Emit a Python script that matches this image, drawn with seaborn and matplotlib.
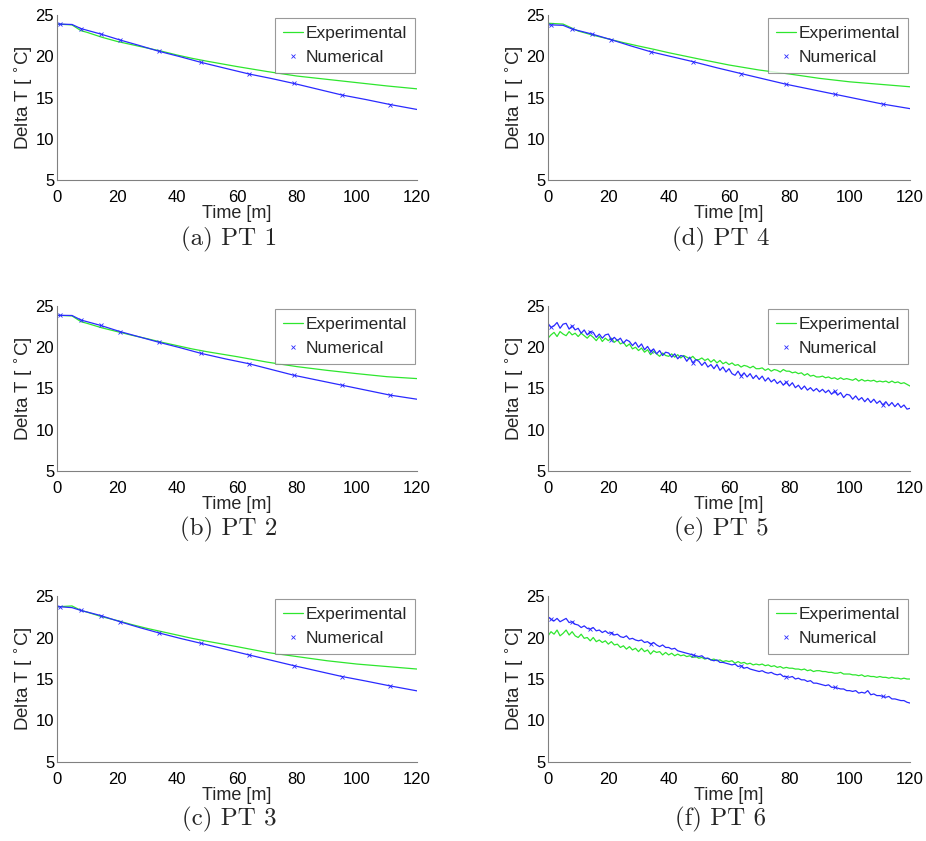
import numpy as np
import pandas as pd
import matplotlib
matplotlib.use("Agg")
import matplotlib.pyplot as plt
import seaborn as sns
from matplotlib.lines import Line2D

# ---------------------------------------------------------------------------
# Data: temperature difference (deg C) against time (minutes)
# ---------------------------------------------------------------------------
captions = ["(a) PT 1", "(b) PT 2", "(c) PT 3", "(d) PT 4", "(e) PT 5", "(f) PT 6"]

# Smooth probes (PT 1 - PT 4)
num_time = [0, 1, 5, 8, 14.5, 21, 27.5, 34, 41, 48, 56, 64, 71.5, 79, 87, 95, 103, 111, 120]
exp_time = [0, 5, 8, 10, 15, 20, 25, 30, 35, 40, 45, 50, 60, 70, 80, 90, 100, 110, 120]

pt1_num = [23.9, 23.9, 23.85, 23.35, 22.7, 21.97, 21.3, 20.6, 19.95, 19.26, 18.55, 17.85,
           17.3, 16.7, 16.0, 15.3, 14.75, 14.15, 13.55]
pt2_num = [23.87, 23.87, 23.85, 23.3, 22.65, 21.9, 21.25, 20.6, 19.95, 19.26, 18.6, 18.0,
           17.3, 16.6, 16.0, 15.4, 14.8, 14.2, 13.7]
pt3_num = [23.7, 23.7, 23.6, 23.26, 22.65, 21.9, 21.2, 20.55, 19.9, 19.3, 18.6, 17.9,
           17.25, 16.6, 15.95, 15.3, 14.75, 14.17, 13.57]
pt4_num = [23.8, 23.8, 23.75, 23.3, 22.7, 22.0, 21.25, 20.55, 19.95, 19.35, 18.6, 17.9,
           17.25, 16.6, 16.0, 15.4, 14.8, 14.2, 13.65]

pt1_exp = [23.9, 23.8, 23.1, 22.9, 22.3, 21.8, 21.4, 21.0, 20.6, 20.15, 19.75, 19.4,
           18.75, 18.15, 17.6, 17.2, 16.8, 16.4, 16.05]
pt2_exp = [23.87, 23.8, 23.1, 22.9, 22.35, 21.9, 21.45, 21.04, 20.6, 20.2, 19.8, 19.46,
           18.86, 18.2, 17.65, 17.2, 16.8, 16.43, 16.2]
pt3_exp = [23.7, 23.8, 23.26, 23.06, 22.5, 22.05, 21.55, 21.1, 20.7, 20.3, 19.9, 19.55,
           18.9, 18.2, 17.7, 17.2, 16.8, 16.5, 16.2]
pt4_exp = [24.0, 23.9, 23.4, 23.06, 22.55, 22.1, 21.65, 21.24, 20.85, 20.43, 20.05, 19.67,
           18.94, 18.33, 17.85, 17.32, 16.9, 16.6, 16.3]

# Noisy probes (PT 5, PT 6), one reading per minute
noisy_time = list(range(121))

pt5_num = [22.9, 22.4, 22.6, 23.0, 22.3, 22.8, 22.9, 22.2, 22.6, 22.1,
           22.3, 21.7, 22.1, 21.5, 21.9, 21.8, 21.2, 21.6, 21.1, 21.5,
           21.6, 20.9, 21.2, 20.8, 21.1, 20.5, 20.9, 20.7, 20.2, 20.6,
           20.0, 20.4, 19.7, 20.1, 19.5, 19.8, 19.2, 19.6, 19.0, 19.4,
           19.3, 18.8, 19.2, 18.6, 19.0, 18.9, 18.3, 18.8, 18.1, 18.5,
           18.3, 17.8, 18.2, 17.6, 17.9, 17.4, 17.9, 17.2, 17.6, 17.0,
           17.4, 16.8, 16.6, 17.1, 16.5, 16.9, 16.4, 16.8, 16.2, 16.6,
           16.1, 16.5, 15.9, 16.3, 15.8, 16.1, 15.6, 15.9, 15.4, 15.8,
           15.3, 15.7, 15.1, 15.4, 14.9, 15.3, 14.8, 15.1, 14.7, 15.0,
           14.6, 14.9, 14.5, 14.8, 14.3, 14.7, 14.2, 14.5, 13.9, 14.3,
           14.2, 13.7, 14.1, 13.6, 13.9, 13.4, 13.8, 13.3, 13.7, 13.2,
           13.5, 13.0, 13.4, 12.9, 13.3, 12.8, 13.2, 12.7, 13.0, 12.5,
           12.6]
pt5_exp = [21.1, 21.5, 21.8, 21.3, 21.9, 21.6, 21.4, 21.9, 21.5, 21.7,
           21.3, 21.7, 21.4, 21.1, 21.5, 21.2, 20.8, 21.3, 20.7, 21.1,
           20.8, 21.1, 20.6, 20.9, 20.4, 20.6, 20.1, 20.4, 19.8, 20.0,
           19.6, 19.9, 19.4, 19.7, 19.1, 19.5, 19.2, 18.9, 19.3, 19.0,
           18.9, 19.2, 18.8, 19.1, 18.7, 19.0, 18.8, 18.6, 18.9, 18.5,
           18.5, 18.7, 18.4, 18.6, 18.2, 18.5, 18.1, 18.4, 18.0, 18.2,
           17.9, 18.1, 17.8, 17.9, 17.6, 17.8, 17.7, 17.5, 17.7, 17.4,
           17.4, 17.5, 17.2, 17.4, 17.1, 17.3, 17.2, 17.0, 17.3, 17.1,
           17.1, 16.9, 17.0, 16.8, 16.9, 16.6, 16.8, 16.5, 16.6, 16.4,
           16.4, 16.5, 16.3, 16.4, 16.2, 16.3, 16.1, 16.3, 16.1, 16.2,
           16.1, 16.0, 16.2, 15.9, 16.1, 15.9, 16.0, 15.9, 16.0, 15.8,
           15.9, 15.8, 15.9, 15.7, 15.9, 15.7, 15.8, 15.6, 15.7, 15.5,
           15.3]
pt6_num = [22.5, 22.2, 22.0, 22.3, 21.9, 22.1, 22.3, 21.8, 21.9, 21.6,
           21.5, 21.2, 21.4, 21.1, 21.0, 21.2, 20.8, 20.9, 20.6, 20.8,
           20.5, 20.6, 20.3, 20.4, 20.1, 20.0, 20.2, 19.8, 19.9, 19.7,
           19.6, 19.7, 19.4, 19.5, 19.2, 19.4, 19.1, 18.9, 19.1, 18.8,
           18.8, 18.6, 18.7, 18.4, 18.3, 18.2, 18.1, 18.0, 17.9, 17.8,
           17.7, 17.8, 17.5, 17.5, 17.3, 17.2, 17.3, 17.0, 17.0, 16.9,
           16.8, 16.7, 16.8, 16.5, 16.6, 16.3, 16.4, 16.2, 16.1, 16.0,
           15.9, 16.0, 15.8, 15.7, 15.8, 15.6, 15.5, 15.6, 15.3, 15.3,
           15.2, 15.3, 15.0, 15.1, 14.9, 14.9, 14.7, 14.8, 14.5, 14.5,
           14.4, 14.3, 14.2, 14.3, 14.0, 14.0, 13.9, 13.8, 13.8, 13.6,
           13.6, 13.5, 13.6, 13.3, 13.4, 13.3, 13.6, 13.1, 13.2, 13.0,
           13.0, 12.9, 12.8, 12.9, 12.6, 12.6, 12.5, 12.4, 12.4, 12.2,
           12.1]
pt6_exp = [20.2, 20.7, 20.4, 20.9, 20.2, 20.5, 20.9, 20.3, 20.7, 20.2,
           20.0, 20.4, 19.9, 20.0, 19.6, 20.0, 19.5, 19.7, 19.4, 19.6,
           19.2, 19.5, 19.1, 19.2, 18.8, 19.0, 18.6, 18.9, 18.5, 18.7,
           18.3, 18.7, 18.3, 18.5, 18.0, 18.4, 18.2, 18.3, 17.9, 18.2,
           17.9, 18.1, 17.8, 18.0, 17.8, 17.9, 17.7, 17.8, 17.6, 17.7,
           17.5, 17.6, 17.4, 17.5, 17.3, 17.4, 17.2, 17.3, 17.1, 17.2,
           17.1, 17.2, 16.9, 17.1, 16.9, 17.0, 16.8, 16.9, 16.7, 16.8,
           16.7, 16.8, 16.6, 16.7, 16.5, 16.6, 16.4, 16.5, 16.3, 16.4,
           16.3, 16.3, 16.2, 16.2, 16.1, 16.2, 16.0, 16.1, 15.9, 16.0,
           16.0, 15.9, 15.9, 15.8, 15.8, 15.7, 15.7, 15.8, 15.6, 15.6,
           15.6, 15.5, 15.5, 15.4, 15.5, 15.3, 15.4, 15.3, 15.3, 15.2,
           15.3, 15.2, 15.2, 15.1, 15.2, 15.1, 15.1, 15.0, 15.1, 15.0,
           15.0]

x_ticks = [0, 20, 40, 60, 80, 100, 120]
y_ticks = [5, 10, 15, 20, 25]
series_labels = ["Experimental", "Numerical"]

# Where the numerical curve carries its "x" markers
smooth_marks = [1, 3, 4, 5, 7, 9, 11, 13, 15, 17]
noisy_marks = [1, 8, 14, 21, 34, 48, 64, 79, 95, 111]

panels = [
    (exp_time, pt1_exp, num_time, pt1_num, smooth_marks),
    (exp_time, pt2_exp, num_time, pt2_num, smooth_marks),
    (exp_time, pt3_exp, num_time, pt3_num, smooth_marks),
    (exp_time, pt4_exp, num_time, pt4_num, smooth_marks),
    (noisy_time, pt5_exp, noisy_time, pt5_num, noisy_marks),
    (noisy_time, pt6_exp, noisy_time, pt6_num, noisy_marks),
]

# ---------------------------------------------------------------------------
# Styling
# ---------------------------------------------------------------------------
sns.set_style("white")
plt.rcParams["font.family"] = ["Liberation Sans", "DejaVu Sans"]
plt.rcParams["mathtext.fontset"] = "dejavusans"

GREEN = "#2ee62e"
BLUE = "#2a2aff"
SPINE = "#808080"

W, H = 926, 841
fig = plt.figure(figsize=(W / 100, H / 100), dpi=100)
fig.patch.set_facecolor("white")

# axes boxes in pixels: (left, right) per column, (top, bottom) per row
col_x = [(57, 417), (548, 910)]
row_y = [(15, 180), (306, 471), (596, 762)]
caption_y = [239, 529, 819]

marker_kw = dict(marker="x", markersize=2.8, markeredgewidth=0.6,
                 markeredgecolor=BLUE, markerfacecolor=BLUE)

# panel order: a, b, c down the left column; d, e, f down the right column
for i, (et, ev, nt, nv, marks) in enumerate(panels):
    col, row = divmod(i, 3)
    x0, x1 = col_x[col]
    y0, y1 = row_y[row]
    ax = fig.add_axes([x0 / W, 1 - y1 / H, (x1 - x0) / W, (y1 - y0) / H])

    exp_df = pd.DataFrame({"time": et, "dT": ev})
    num_df = pd.DataFrame({"time": nt, "dT": nv})
    sns.lineplot(data=exp_df, x="time", y="dT", ax=ax, color=GREEN, lw=0.9,
                 estimator=None, sort=False)
    sns.lineplot(data=num_df, x="time", y="dT", ax=ax, color=BLUE, lw=0.9,
                 estimator=None, sort=False, markevery=marks, **marker_kw)

    ax.set_xlim(0, 120)
    ax.set_ylim(5, 25)
    ax.set_xticks(x_ticks)
    ax.set_yticks(y_ticks)
    ax.tick_params(direction="in", length=4, width=0.8, color=SPINE,
                   labelsize=12, labelcolor="black")
    ax.tick_params(axis="x", pad=7)
    ax.tick_params(axis="y", pad=2)
    for side in ("top", "right"):
        ax.spines[side].set_visible(False)
    for side in ("left", "bottom"):
        ax.spines[side].set_color(SPINE)
        ax.spines[side].set_linewidth(0.8)

    ax.set_xlabel("Time [m]", fontsize=13, labelpad=0)
    ax.set_ylabel(r"Delta T [ $^{\circ}$C]", fontsize=13.5, labelpad=1)

    handles = [Line2D([], [], color=GREEN, lw=0.9),
               Line2D([], [], color=BLUE, ls="none", **marker_kw)]
    leg = ax.legend(handles, series_labels, loc="upper right",
                    bbox_to_anchor=(0.995, 0.982), borderaxespad=0,
                    fontsize=12.5, frameon=True, fancybox=False,
                    handlelength=1.2, handletextpad=0.15, borderpad=0.45,
                    labelspacing=0.5)
    leg.get_frame().set_edgecolor(SPINE)
    leg.get_frame().set_linewidth(0.8)

    cx = (x0 + x1) / 2 - 8
    fig.text(cx / W, 1 - caption_y[row] / H, captions[i], fontfamily="cmr10",
             fontsize=18, ha="center", va="center")

fig.savefig("out.png", dpi=100, facecolor="white")
